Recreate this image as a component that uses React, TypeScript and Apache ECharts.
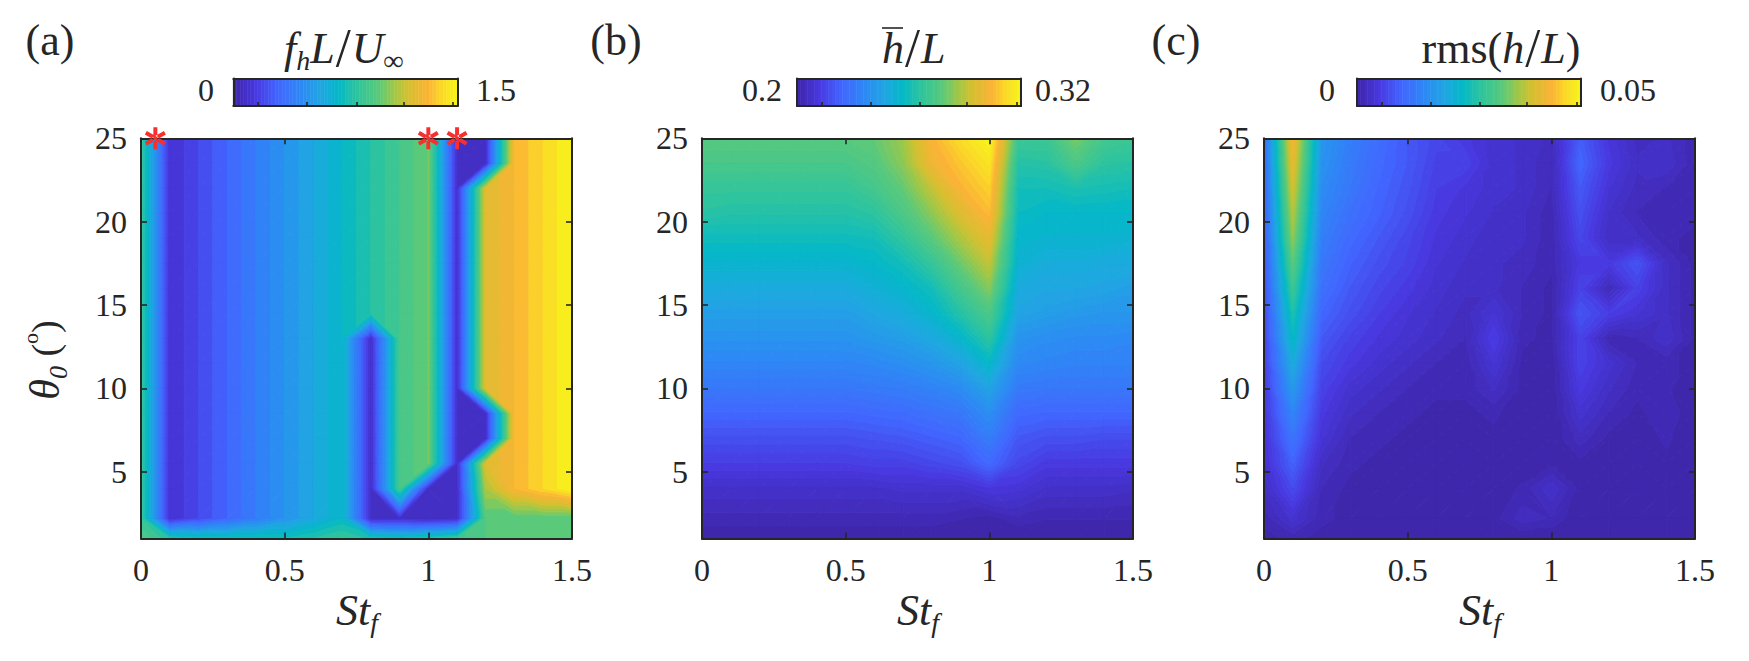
import React, { useEffect, useRef } from 'react';
import * as echarts from 'echarts';

// forcing Strouhal number (columns) and pitch amplitude (rows, bottom to top)
const stGrid = [0, 0.1, 0.2, 0.3, 0.4, 0.5, 0.6, 0.7, 0.8, 0.9, 1, 1.1, 1.2, 1.3, 1.4, 1.5];
const thetaGrid = [1, 2.2, 4, 5.5, 7, 8.5, 10, 11.5, 13, 14.5, 16, 17.5, 19, 20.5, 22, 23.5, 25];

const freqRows = [
  [0.95, 0.8, 0.75, 0.75, 0.75, 0.75, 0.8, 0.86, 0.78, 0.75, 0.8, 0.88, 0.95, 0.95, 0.95, 0.95],
  [0.85, 0.1, 0.2, 0.3, 0.4, 0.5, 0.6, 0.7, 0.08, 0.08, 0.05, 0.08, 0.95, 0.95, 0.95, 0.95],
  [0.85, 0.1, 0.2, 0.3, 0.4, 0.5, 0.6, 0.7, 0.08, 0.9, 0.08, 0.08, 1.1, 1.3, 1.4, 1.5],
  [0.85, 0.1, 0.2, 0.3, 0.4, 0.5, 0.6, 0.7, 0.08, 0.9, 1, 0.08, 1.2, 1.3, 1.4, 1.5],
  [0.85, 0.1, 0.2, 0.3, 0.4, 0.5, 0.6, 0.7, 0.08, 0.9, 1, 0.08, 0.08, 1.3, 1.4, 1.5],
  [0.85, 0.1, 0.2, 0.3, 0.4, 0.5, 0.6, 0.7, 0.08, 0.9, 1, 0.08, 0.08, 1.3, 1.4, 1.5],
  [0.85, 0.1, 0.2, 0.3, 0.4, 0.5, 0.6, 0.7, 0.08, 0.9, 1, 0.08, 1.2, 1.3, 1.4, 1.5],
  [0.85, 0.1, 0.2, 0.3, 0.4, 0.5, 0.6, 0.7, 0.08, 0.9, 1, 0.08, 1.2, 1.3, 1.4, 1.5],
  [0.85, 0.1, 0.2, 0.3, 0.4, 0.5, 0.6, 0.7, 0.08, 0.9, 1, 0.08, 1.2, 1.3, 1.4, 1.5],
  [0.85, 0.1, 0.2, 0.3, 0.4, 0.5, 0.6, 0.7, 0.8, 0.9, 1, 0.08, 1.2, 1.3, 1.4, 1.5],
  [0.85, 0.1, 0.2, 0.3, 0.4, 0.5, 0.6, 0.7, 0.8, 0.9, 1, 0.08, 1.2, 1.3, 1.4, 1.5],
  [0.85, 0.1, 0.2, 0.3, 0.4, 0.5, 0.6, 0.7, 0.8, 0.9, 1, 0.08, 1.2, 1.3, 1.4, 1.5],
  [0.85, 0.1, 0.2, 0.3, 0.4, 0.5, 0.6, 0.7, 0.8, 0.9, 1, 0.08, 1.2, 1.3, 1.4, 1.5],
  [0.85, 0.1, 0.2, 0.3, 0.4, 0.5, 0.6, 0.7, 0.8, 0.9, 1, 0.08, 1.2, 1.3, 1.4, 1.5],
  [0.85, 0.1, 0.2, 0.3, 0.4, 0.5, 0.6, 0.7, 0.8, 0.9, 1, 0.08, 1.2, 1.3, 1.4, 1.5],
  [0.85, 0.1, 0.2, 0.3, 0.4, 0.5, 0.6, 0.7, 0.8, 0.9, 1, 0.08, 0.08, 1.3, 1.4, 1.5],
  [0.85, 0.1, 0.2, 0.3, 0.4, 0.5, 0.6, 0.7, 0.8, 0.9, 1, 0.08, 0.08, 1.3, 1.4, 1.5],
];

const meanRows = [
  [0.2, 0.2, 0.2, 0.2, 0.2, 0.2, 0.2, 0.2, 0.2, 0.2, 0.2, 0.2, 0.2, 0.2, 0.2, 0.2],
  [0.203, 0.203, 0.203, 0.203, 0.203, 0.203, 0.203, 0.203, 0.203, 0.202, 0.201, 0.203, 0.202, 0.202, 0.202, 0.202],
  [0.207, 0.207, 0.207, 0.207, 0.207, 0.207, 0.207, 0.208, 0.208, 0.208, 0.211, 0.21, 0.207, 0.207, 0.207, 0.206],
  [0.213, 0.213, 0.213, 0.213, 0.213, 0.213, 0.214, 0.214, 0.216, 0.218, 0.225, 0.216, 0.212, 0.212, 0.212, 0.212],
  [0.218, 0.218, 0.218, 0.218, 0.218, 0.218, 0.219, 0.22, 0.222, 0.224, 0.232, 0.22, 0.218, 0.218, 0.217, 0.217],
  [0.224, 0.224, 0.224, 0.224, 0.224, 0.224, 0.225, 0.226, 0.228, 0.23, 0.238, 0.225, 0.224, 0.224, 0.224, 0.224],
  [0.23, 0.23, 0.23, 0.23, 0.23, 0.23, 0.231, 0.232, 0.234, 0.237, 0.246, 0.231, 0.23, 0.23, 0.23, 0.23],
  [0.235, 0.235, 0.235, 0.235, 0.235, 0.235, 0.236, 0.238, 0.241, 0.246, 0.256, 0.236, 0.235, 0.234, 0.234, 0.234],
  [0.24, 0.24, 0.24, 0.24, 0.24, 0.24, 0.242, 0.244, 0.248, 0.255, 0.266, 0.24, 0.238, 0.237, 0.237, 0.236],
  [0.244, 0.244, 0.244, 0.244, 0.244, 0.244, 0.247, 0.25, 0.255, 0.264, 0.274, 0.246, 0.244, 0.242, 0.241, 0.241],
  [0.249, 0.249, 0.249, 0.249, 0.249, 0.249, 0.252, 0.255, 0.26, 0.272, 0.283, 0.249, 0.247, 0.247, 0.246, 0.244],
  [0.254, 0.254, 0.254, 0.254, 0.254, 0.254, 0.256, 0.26, 0.268, 0.28, 0.291, 0.253, 0.25, 0.25, 0.249, 0.249],
  [0.259, 0.259, 0.259, 0.259, 0.259, 0.259, 0.26, 0.267, 0.277, 0.288, 0.298, 0.255, 0.254, 0.254, 0.254, 0.253],
  [0.265, 0.264, 0.264, 0.264, 0.264, 0.264, 0.266, 0.274, 0.284, 0.296, 0.306, 0.258, 0.256, 0.256, 0.256, 0.256],
  [0.268, 0.268, 0.268, 0.268, 0.268, 0.268, 0.272, 0.279, 0.291, 0.304, 0.31, 0.26, 0.26, 0.262, 0.261, 0.26],
  [0.273, 0.273, 0.273, 0.273, 0.273, 0.273, 0.276, 0.284, 0.301, 0.308, 0.315, 0.264, 0.265, 0.274, 0.266, 0.265],
  [0.277, 0.277, 0.277, 0.277, 0.277, 0.277, 0.279, 0.286, 0.304, 0.313, 0.32, 0.27, 0.27, 0.282, 0.272, 0.27],
];

const rmsRows = [
  [0.0005, 0.001, 0.0005, 0, 0, 0, 0, 0, 0, 0, 0, 0, 0, 0, 0, 0],
  [0.001, 0.0035, 0.001, 0.0005, 0, 0, 0, 0, 0.0005, 0.002, 0.0015, 0, 0, 0, 0, 0],
  [0.0025, 0.007, 0.0015, 0.0005, 0.0005, 0, 0, 0, 0, 0.001, 0.003, 0.0005, 0, 0, 0, 0],
  [0.0035, 0.0095, 0.0025, 0.001, 0.0005, 0.0005, 0, 0, 0, 0, 0.0005, 0.0005, 0, 0, 0.0005, 0],
  [0.004, 0.012, 0.004, 0.0015, 0.001, 0.0005, 0.0005, 0, 0.0005, 0, 0, 0.002, 0.0005, 0, 0.001, 0],
  [0.0045, 0.0145, 0.005, 0.0025, 0.0015, 0.001, 0.0005, 0.0005, 0.001, 0, 0, 0.0035, 0.0015, 0.0005, 0.0015, 0],
  [0.005, 0.0175, 0.006, 0.0035, 0.0025, 0.0015, 0.001, 0.001, 0.0025, 0.0005, 0, 0.005, 0.0025, 0.001, 0.001, 0],
  [0.0055, 0.0205, 0.007, 0.005, 0.0035, 0.0025, 0.0015, 0.001, 0.004, 0.0005, 0, 0.006, 0.0035, 0.0015, 0.001, 0.0005],
  [0.006, 0.0235, 0.0085, 0.006, 0.0045, 0.0035, 0.0025, 0.0015, 0.0055, 0.001, 0.0005, 0.006, 0.001, 0.0015, 0.003, 0.0005],
  [0.0065, 0.026, 0.01, 0.0075, 0.0055, 0.004, 0.003, 0.002, 0.004, 0.0015, 0.0005, 0.008, 0.0055, 0.004, 0.0025, 0.0005],
  [0.007, 0.029, 0.0115, 0.0085, 0.0065, 0.005, 0.0035, 0.0025, 0.0025, 0.0015, 0.0005, 0.006, 0.0015, 0.006, 0.0025, 0.0005],
  [0.0075, 0.032, 0.0125, 0.0095, 0.0075, 0.006, 0.004, 0.003, 0.0025, 0.002, 0.001, 0.005, 0.005, 0.008, 0.0025, 0.0005],
  [0.008, 0.035, 0.0135, 0.0105, 0.0085, 0.0065, 0.0045, 0.0035, 0.0025, 0.0025, 0.001, 0.0065, 0.0025, 0.0025, 0.001, 0.0005],
  [0.0085, 0.037, 0.0145, 0.0115, 0.0095, 0.0075, 0.005, 0.004, 0.003, 0.0025, 0.001, 0.0075, 0.003, 0.0015, 0.001, 0.001],
  [0.009, 0.039, 0.0155, 0.0125, 0.01, 0.008, 0.0055, 0.0045, 0.0035, 0.003, 0.0015, 0.0085, 0.004, 0.002, 0.0015, 0.001],
  [0.0095, 0.041, 0.0165, 0.013, 0.0105, 0.0085, 0.006, 0.006, 0.0035, 0.003, 0.0015, 0.01, 0.005, 0.0025, 0.003, 0.001],
  [0.01, 0.0425, 0.017, 0.0135, 0.011, 0.0085, 0.0065, 0.005, 0.0035, 0.003, 0.002, 0.009, 0.0045, 0.002, 0.0025, 0.001],
];

const lockOnPoints = [[0.05, 25], [1, 25], [1.1, 25]];
const xTickValues = [0, 0.5, 1, 1.5];
const yTickValues = [5, 10, 15, 20, 25];
const colorbarTicks = [0.11, 0.33, 0.55, 0.76, 0.98];

const colorStops: [number, string][] = [
  [0, '#3e26a8'], [0.1, '#4838e0'], [0.2, '#4266ff'], [0.3, '#2e88f5'], [0.4, '#1ea8e0'],
  [0.47, '#04b8c8'], [0.55, '#2cc4a0'], [0.65, '#5bc97a'], [0.72, '#a0c848'], [0.78, '#d4c030'],
  [0.87, '#fbb336'], [0.93, '#fbd828'], [1, '#f7f51a'],
];

const SERIF = '"Liberation Serif", "DejaVu Serif", serif';
const INK = '#262626';
const STAR = 'path://M8.2,0H11.8V20H8.2ZM19.56,13.44L17.76,16.56L.44,6.56L2.24,3.44ZM19.56,6.56L17.76,3.44L.44,13.44L2.24,16.56Z';

const hex = (c: string) => [1, 3, 5].map(i => parseInt(c.slice(i, i + 2), 16));

const levelColor = (k: number, levels: number) => {
  const t = (k + 0.5) / levels;
  let i = 0;
  while (i < colorStops.length - 2 && colorStops[i + 1][0] < t) i++;
  const [t0, c0] = colorStops[i];
  const [t1, c1] = colorStops[i + 1];
  const a = hex(c0);
  const b = hex(c1);
  const w = (t - t0) / (t1 - t0);
  return `rgb(${a.map((v, n) => Math.round(v + (b[n] - v) * w)).join(',')})`;
};

type Vert = [number, number, number];

// keep the part of a polygon on one side of a colour position
const clipAt = (poly: Vert[], limit: number, sign: number) => {
  const out: Vert[] = [];
  poly.forEach((p, i) => {
    const q = poly[(i + 1) % poly.length];
    const pIn = sign * (p[2] - limit) >= 0;
    const qIn = sign * (q[2] - limit) >= 0;
    if (pIn) out.push(p);
    if (pIn !== qIn) {
      const w = (limit - p[2]) / (q[2] - p[2]);
      out.push([p[0] + (q[0] - p[0]) * w, p[1] + (q[1] - p[1]) * w, limit]);
    }
  });
  return out;
};

const triangleBands = (tri: Vert[], levels: number) => {
  const ts = tri.map(v => v[2]);
  const first = Math.min(levels - 1, Math.floor(Math.min(...ts) * levels));
  const last = Math.min(levels - 1, Math.floor(Math.max(...ts) * levels));
  const bands: any[] = [];
  for (let k = first; k <= last; k++) {
    let poly = tri;
    if (k > 0) poly = clipAt(poly, k / levels, 1);
    if (k < levels - 1 && poly.length) poly = clipAt(poly, (k + 1) / levels, -1);
    if (poly.length < 3) continue;
    const color = levelColor(k, levels);
    bands.push({
      type: 'polygon',
      z2: k, // low levels first, so band edges stay clean across triangles
      shape: { points: poly.map(p => [p[0], p[1]]) },
      style: { fill: color, stroke: color, lineWidth: 1 },
    });
  }
  return bands;
};

// one quad of the surface, split along the diagonal whose ends differ least
const renderCell = (lo: number, hi: number, levels: number) => (_: any, api: any) => {
  const [x0, y0, x1, y1] = [api.value(0), api.value(1), api.value(2), api.value(3)];
  const vert = (x: number, y: number, v: number): Vert => {
    const p = api.coord([x, y]);
    const t = Math.max(0, Math.min(1, (v - lo) / (hi - lo)));
    return [p[0], p[1], t];
  };
  const a = vert(x0, y0, api.value(4));
  const b = vert(x1, y0, api.value(5));
  const c = vert(x0, y1, api.value(6));
  const d = vert(x1, y1, api.value(7));
  const tris = Math.abs(a[2] - d[2]) <= Math.abs(b[2] - c[2]) ? [[a, b, d], [a, d, c]] : [[a, b, c], [b, d, c]];
  return { type: 'group', children: tris.flatMap(t => triangleBands(t, levels)) };
};

const BAR_LEVELS = 64;

const renderColorbarLevel = (_: any, api: any) => {
  const k = api.value(0);
  const p0 = api.coord([k / BAR_LEVELS, 0]);
  const p1 = api.coord([(k + 1) / BAR_LEVELS, 1]);
  const color = levelColor(k, BAR_LEVELS);
  return {
    type: 'rect',
    shape: { x: p0[0], y: p1[1], width: p1[0] - p0[0], height: p0[1] - p1[1] },
    style: { fill: color, stroke: color, lineWidth: 0.6 },
  };
};

const cellData = (rows: number[][]) =>
  thetaGrid.slice(0, -1).flatMap((y, j) =>
    stGrid.slice(0, -1).map((x, i) => [
      x, y, stGrid[i + 1], thetaGrid[j + 1],
      rows[j][i], rows[j][i + 1], rows[j + 1][i], rows[j + 1][i + 1],
    ]));

const panelLefts = [141, 702, 1264];
const barLefts = [233.3, 797, 1357];
const panelRanges = [[0, 1.5], [0.2, 0.32], [0, 0.05]];
const panelLevels = [30, 64, 64];
const panelRows = [freqRows, meanRows, rmsRows];

const frameAxis = (gridIndex: number, position: string, min: number, max: number, extra: any = {}) => ({
  type: 'value',
  gridIndex,
  position,
  min,
  max,
  z: 5,
  splitLine: { show: false },
  axisLine: { show: true, onZero: false, lineStyle: { color: INK, width: 2 } },
  axisTick: { show: false },
  axisLabel: { show: false },
  ...extra,
});

const tickStyle = (customValues: number[], length = 6) => ({
  show: true, inside: true, length, customValues, lineStyle: { color: INK, width: 1.6 },
});

const tickLabels = (customValues: number[], margin: number) => ({
  show: true, customValues, margin, fontFamily: SERIF, fontSize: 32, color: INK,
});

const buildOption = () => {
  const grid: any[] = [];
  const xAxis: any[] = [];
  const yAxis: any[] = [];
  const series: any[] = [];

  panelLefts.forEach((left, p) => {
    const g = grid.length;
    grid.push({ left, top: 138.3, width: 431, height: 400.2 });
    xAxis.push(
      frameAxis(g, 'bottom', 0, 1.5, { axisTick: tickStyle(xTickValues), axisLabel: tickLabels(xTickValues, 15) }),
      frameAxis(g, 'top', 0, 1.5, { axisTick: tickStyle(xTickValues) }),
    );
    yAxis.push(
      frameAxis(g, 'left', 1, 25, { axisTick: tickStyle(yTickValues), axisLabel: tickLabels(yTickValues, 14) }),
      frameAxis(g, 'right', 1, 25, { axisTick: tickStyle(yTickValues) }),
    );
    series.push({
      type: 'custom',
      xAxisIndex: 2 * g,
      yAxisIndex: 2 * g,
      clip: true,
      silent: true,
      renderItem: renderCell(panelRanges[p][0], panelRanges[p][1], panelLevels[p]),
      encode: { x: [0, 2], y: [1, 3] },
      data: cellData(panelRows[p]),
      z: 2,
    });
  });

  barLefts.forEach(left => {
    const g = grid.length;
    grid.push({ left, top: 78.5, width: 224, height: 27.5 });
    xAxis.push(
      frameAxis(g, 'bottom', 0, 1, { axisTick: tickStyle(colorbarTicks, 4) }),
      frameAxis(g, 'top', 0, 1),
    );
    yAxis.push(frameAxis(g, 'left', 0, 1), frameAxis(g, 'right', 0, 1));
    series.push({
      type: 'custom',
      xAxisIndex: 2 * g,
      yAxisIndex: 2 * g,
      silent: true,
      renderItem: renderColorbarLevel,
      encode: { x: 0 },
      data: Array.from({ length: BAR_LEVELS }, (_, k) => [k]),
      z: 2,
    });
  });

  series.push({
    type: 'scatter',
    xAxisIndex: 0,
    yAxisIndex: 0,
    symbol: STAR,
    symbolSize: [21, 22],
    itemStyle: { color: '#f5302f', opacity: 1 },
    data: lockOnPoints,
    clip: false,
    silent: true,
    z: 10,
  });

  return { animation: false, backgroundColor: '#fff', grid, xAxis, yAxis, series, graphic: buildGraphics() };
};

const textEl = (x: number, y: number, text: string, fontSize: number, align = 'center', rich?: any, rotation = 0) => ({
  type: 'text',
  x,
  y,
  rotation,
  silent: true,
  z: 20,
  style: {
    text,
    rich,
    fontFamily: SERIF,
    fontSize,
    fill: INK,
    align,
    textAlign: align,
    verticalAlign: 'middle',
    textVerticalAlign: 'middle',
  },
});

const ital = { fontFamily: SERIF, fontStyle: 'italic', fontSize: 44, fill: INK, lineHeight: 52 };
const roman = { fontFamily: SERIF, fontSize: 44, fill: INK, lineHeight: 52 };
const sub = { fontFamily: SERIF, fontStyle: 'italic', fontSize: 28, fill: INK, verticalAlign: 'bottom', lineHeight: 34 };
const slash = { fontFamily: SERIF, fontSize: 54, fill: INK, lineHeight: 52, padding: [0, 1, 0, 1] };
const richMath = { i: ital, r: roman, s: sub, l: slash };

const buildGraphics = () => [
  textEl(50, 40, '(a)', 44),
  textEl(616, 40, '(b)', 44),
  textEl(1176, 40, '(c)', 44),

  textEl(284, 48, '{i|f}{s|h}{i|L}{l|/}{i|U}{s|∞}', 44, 'left', richMath),
  textEl(882, 48, '{i|h}{l|/}{i|L}', 44, 'left', richMath),
  { type: 'line', silent: true, shape: { x1: 882, y1: 28, x2: 903, y2: 28 }, style: { stroke: INK, lineWidth: 1.6 } },
  textEl(1501, 48, '{r|rms(}{i|h}{l|/}{i|L}{r|)}', 44, 'center', richMath),

  textEl(214, 90, '0', 32, 'right'),
  textEl(476, 90, '1.5', 32, 'left'),
  textEl(782, 90, '0.2', 32, 'right'),
  textEl(1035, 90, '0.32', 32, 'left'),
  textEl(1335, 90, '0', 32, 'right'),
  textEl(1600, 90, '0.05', 32, 'left'),

  textEl(357, 610, '{i|St}{s|f}', 44, 'center', richMath),
  textEl(918, 610, '{i|St}{s|f}', 44, 'center', richMath),
  textEl(1480, 610, '{i|St}{s|f}', 44, 'center', richMath),

  textEl(45, 360, '{i|θ}{s|0}{r| (}{u|o}{r|)}', 44, 'center', {
    i: { ...ital, fontSize: 42 },
    r: { ...roman, fontSize: 38 },
    s: { ...sub, fontSize: 26 },
    u: { fontFamily: SERIF, fontSize: 22, fill: INK, verticalAlign: 'top', lineHeight: 28 },
  }, Math.PI / 2),
];

const App: React.FC = () => {
  const chartRef = useRef<HTMLDivElement>(null);

  useEffect(() => {
    if (!chartRef.current) return;
    const chart = echarts.init(chartRef.current, undefined, { renderer: 'svg' });
    chart.setOption(buildOption() as any);
    return () => chart.dispose();
  }, []);

  return (
    <div
      ref={chartRef}
      style={{ position: 'fixed', left: 0, top: 0, width: 1749, height: 661, background: '#fff' }}
    />
  );
};

export default App;
